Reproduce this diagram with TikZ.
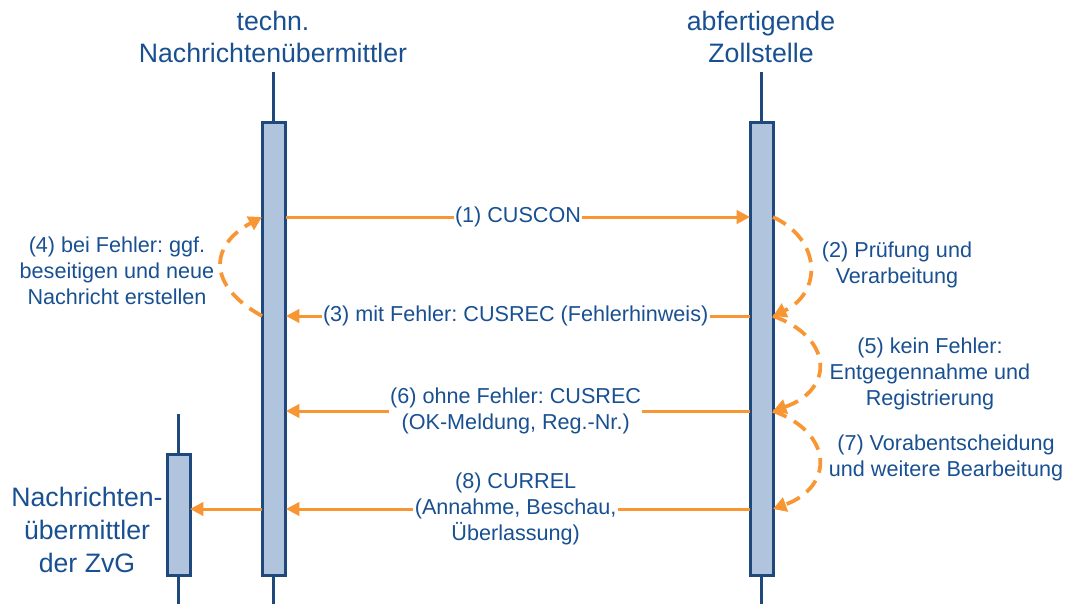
\documentclass[tikz,border=0pt]{standalone}
\usepackage{fontspec}
\setmainfont{Liberation Sans}
\usetikzlibrary{arrows.meta}
\definecolor{txtblue}{RGB}{24,80,146}
\definecolor{lineblue}{RGB}{31,73,125}
\definecolor{boxfill}{RGB}{176,196,222}
\definecolor{msgorange}{RGB}{247,150,50}
\frenchspacing

\begin{document}
\begin{tikzpicture}[x=0.75pt,y=-0.75pt]
        %
        % `lifebox' is the activation bar, `life' the thin line behind it.
        % `msg' is a message arrow, `work' the dashed internal step.
        \tikzstyle{life} = [draw=lineblue,line width=2.25pt]
        \tikzstyle{lifebox} = [draw=lineblue,fill=boxfill,line width=2.25pt,minimum width=17.25pt,inner sep=0pt]
        \tikzstyle{msg} = [draw=msgorange,line width=2.25pt,-{Triangle[length=10pt,width=10pt]}]
        \tikzstyle{work} = [draw=msgorange,line width=2.8pt,dash pattern=on 11pt off 6.5pt,-{Triangle[length=10pt,width=11pt]}]
        \tikzstyle{msglabel} = [fill=white,text=txtblue,align=center,inner sep=1pt,font=\fontsize{16.2}{19.5}\selectfont]
        \tikzstyle{steplabel} = [text=txtblue,align=center,inner sep=0pt,font=\fontsize{16.2}{19.5}\selectfont]
        \tikzstyle{headlabel} = [text=txtblue,align=center,inner sep=0pt,font=\fontsize{20}{24.5}\selectfont]
        \useasboundingbox (0,0) rectangle (1067,604);
        %
        % Headers
        \node[headlabel] (tnhead) at (273,37) {techn.\\Nachrichtenübermittler};
        \node[headlabel] (zshead) at (761,37) {abfertigende\\Zollstelle};
        \node[headlabel] (zvghead) at (87,530) {Nachrichten-\\übermittler\\der ZvG};
        %
        % Lifelines
        \coordinate (tntop) at (273.5,72);
        \coordinate (tnbot) at (273.5,604);
        \coordinate (zstop) at (761.5,72);
        \coordinate (zsbot) at (761.5,604);
        \coordinate (zvgtop) at (178.5,414);
        \coordinate (zvgbot) at (178.5,604);
        \draw[life] (tntop) -- (tnbot);
        \draw[life] (zstop) -- (zsbot);
        \draw[life] (zvgtop) -- (zvgbot);
        \node[lifebox,minimum height=339.75pt] (tnbox) at (273.5,348.5) {};
        \node[lifebox,minimum height=339.75pt] (zsbox) at (761.5,348.5) {};
        \node[lifebox,minimum height=90.75pt] (zvgbox) at (178.5,515) {};
        %
        % Message levels
        \coordinate (tn1) at (286,217);
        \coordinate (zs1) at (750,217);
        \coordinate (tn3) at (286,316);
        \coordinate (zs3) at (750,316);
        \coordinate (tn6) at (286,411);
        \coordinate (zs6) at (750,411);
        \coordinate (tn8) at (286,509);
        \coordinate (zs8) at (750,509);
        \coordinate (tn8l) at (262,509);
        \coordinate (zvg8) at (190,509);
        \coordinate (tn1l) at (262,217);
        \coordinate (tn3l) at (262,316);
        \coordinate (zs1r) at (773,217);
        \coordinate (zs3r) at (773,316);
        \coordinate (zs6r) at (773,411);
        \coordinate (zs8r) at (773,509);
        %
        % Messages
        \draw[msg] (tn1) -- node[msglabel] (m1) {(1) CUSCON} (zs1);
        \draw[msg] (zs3) -- node[msglabel,pos=0.505] (m3) {(3) mit Fehler: CUSREC (Fehlerhinweis)} (tn3);
        \draw[msg] (zs6) -- node[msglabel,pos=0.505] (m6) {(6) ohne Fehler: CUSREC\\(OK-Meldung, Reg.-Nr.)} (tn6);
        \draw[msg] (zs8) -- node[msglabel,pos=0.505] (m8) {(8) CURREL\\(Annahme, Beschau,\\Überlassung)} (tn8);
        \draw[msg] (tn8l) -- (zvg8);
        %
        % Internal steps
        \draw[work] (zs1r) .. controls (822,240) and (822,293) .. (zs3r);
        \draw[work] (zs3r) .. controls (834,338) and (834,390) .. (zs6r);
        \draw[work] (zs6r) .. controls (834,433) and (834,487) .. (zs8r);
        \draw[work] (tn3l) .. controls (206,285) and (210,245) .. (tn1l);
        \node[steplabel] (s2) at (897,265) {(2) Prüfung und\\Verarbeitung};
        \node[steplabel] (s5) at (930,374) {(5) kein Fehler:\\Entgegennahme und\\Registrierung};
        \node[steplabel] (s7) at (946,458) {(7) Vorabentscheidung\\und weitere Bearbeitung};
        \node[steplabel] (s4) at (117,271) {(4) bei Fehler: ggf.\\beseitigen und neue\\Nachricht erstellen};
        %
\end{tikzpicture}
\end{document}
